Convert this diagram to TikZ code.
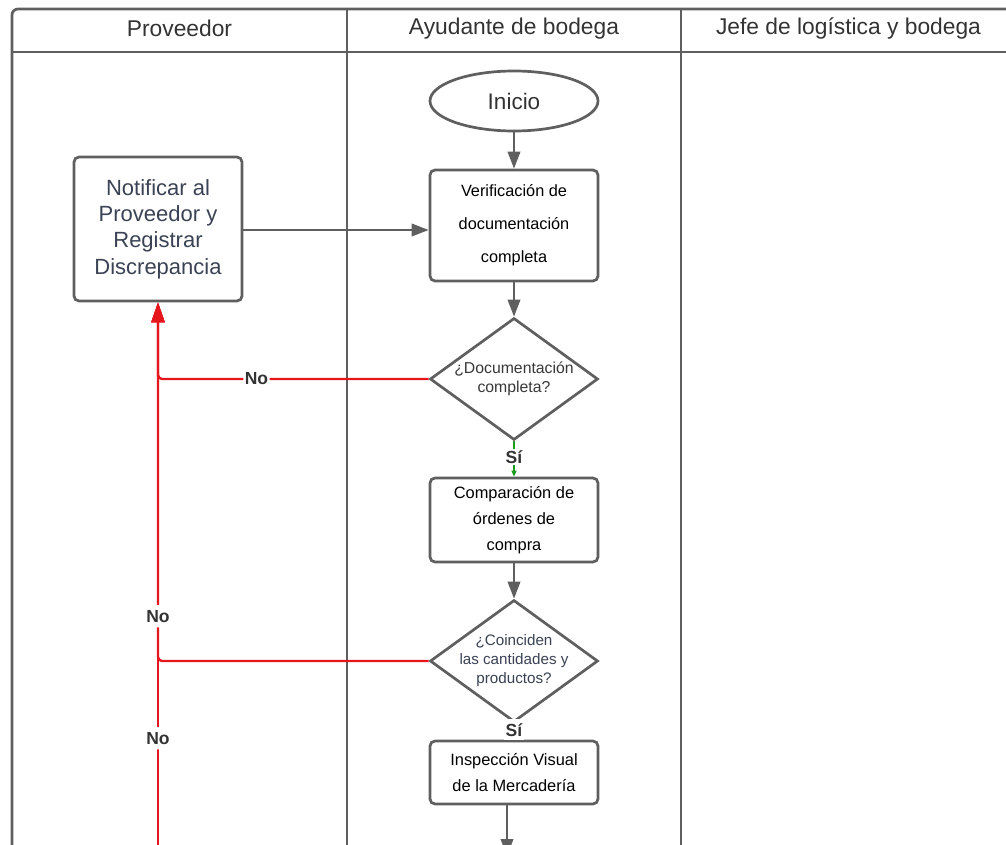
\documentclass[tikz,border=0pt]{standalone}
\usepackage{fontspec}
\setmainfont{Liberation Sans}
\usetikzlibrary{shapes.geometric,arrows.meta}

\definecolor{lanegray}{HTML}{5F5F5F}
\definecolor{headtext}{HTML}{333333}
\definecolor{slatetext}{HTML}{3A4254}
\definecolor{noline}{HTML}{E5161C}
\definecolor{yesline}{HTML}{1E9A1E}

\tikzset{
  lane/.style={draw=lanegray, line width=2.7pt, rounded corners=6pt},
  head/.style={font=\fontsize{22.8}{26}\selectfont, text=headtext},
  proc/.style={draw=lanegray, line width=2.7pt, rounded corners=5pt, fill=white,
    minimum width=168pt, align=center, inner sep=0pt, text=black,
    font=\fontsize{16.4}{26}\selectfont},
  term/.style={ellipse, draw=lanegray, line width=2.7pt, fill=white,
    minimum width=168pt, minimum height=60pt, inner sep=0pt,
    font=\fontsize{22.5}{26}\selectfont, text=headtext},
  dec/.style={diamond, draw=lanegray, line width=2.7pt, fill=white,
    minimum width=168pt, minimum height=122pt, inner xsep=-45pt, inner ysep=-25pt,
    align=center, font=\fontsize{15.8}{19.5}\selectfont},
  flow/.style={draw=lanegray, line width=2.2pt,
    -{Triangle[length=17pt,width=12.5pt]}},
  nope/.style={draw=noline, line width=2.4pt, rounded corners=4pt,
    -{Triangle[length=20pt,width=13pt]}},
  yes/.style={draw=yesline, line width=1.6pt,
    -{Triangle[length=6pt,width=5pt]}},
  nolbl/.style={fill=white, inner xsep=1.5pt, inner ysep=3pt, text=headtext,
    font=\fontsize{17.5}{19}\bfseries},
  yeslbl/.style={fill=white, inner sep=1.5pt, text=headtext,
    font=\fontsize{17.5}{19}\bfseries},
}

\begin{document}
\begin{tikzpicture}[x=1pt,y=-1pt]
\useasboundingbox (0,0) rectangle (1006,845);
\clip (0,0) rectangle (1006,845);

% swimlane frame and header row
\draw[lane] (12,870) -- (12,9) -- (1030,9);
\draw[lane, rounded corners=0pt] (12,52) -- (1030,52);
\draw[lane, rounded corners=0pt] (347,9) -- (347,870);
\draw[lane, rounded corners=0pt] (681,9) -- (681,870);

\node[head] (hprov) at (179.5,28.5) {Proveedor};
\node[head] (hayud) at (514,28.5) {Ayudante de bodega};
\node[head] (hjefe) at (848.5,28.5) {Jefe de logística y bodega};

% process steps
\node[term] (inicio) at (514,101) {Inicio};
\node[proc, minimum height=111pt, font=\fontsize{16.3}{33}\selectfont] (verif) at (514,225.5)
  {Verificación de\\documentación\\completa};
\node[dec, text=black!78] (d1) at (514,379) {¿Documentación\\completa?};
\node[proc, minimum height=84pt] (comp) at (514,520)
  {Comparación de\\órdenes de\\compra};
\node[dec, text=slatetext, font=\fontsize{15.2}{19}\selectfont] (d2) at (514,661)
  {¿Coinciden\\las cantidades y\\productos?};
\node[proc, minimum height=63pt] (insp) at (514,772.5)
  {Inspección Visual\\de la Mercadería};
\node[proc, minimum height=144pt, text=slatetext, font=\fontsize{22}{26.3}\selectfont] (notif) at (158,229)
  {Notificar al\\Proveedor y\\Registrar\\Discrepancia};

\coordinate (loopin) at (158,870);
\coordinate (nextstep) at (507,856);

% main flow
\draw[flow] (inicio) -- (verif);
\draw[flow] (verif) -- (d1);
\draw[flow] (comp) -- (d2);
\draw[flow] (insp.south -| nextstep) -- (nextstep);
\draw[flow] (notif.east |- 0,230) -- (verif.west |- 0,230);
\draw[yes] (d1) -- node[yeslbl, pos=0.45] (y1) {Sí} (comp);
\draw[yes] (d2) -- node[yeslbl, pos=0.4, inner ysep=4pt] (y2) {Sí} (insp);

% rejection paths back to the supplier (lowest first, so upper labels stay on top)
\draw[nope] (loopin) -- node[nolbl, pos=0.232, inner ysep=5pt] (n3) {No} (notif.south);
\draw[nope] (d2.west) -- (notif.south |- d2.west) -- node[nolbl, pos=0.125, inner ysep=5pt] (n2) {No} (notif.south);
\draw[nope] (d1.west) -- node[nolbl, pos=0.636] (n1) {No} (notif.south |- d1.west) -- (notif.south);
\end{tikzpicture}
\end{document}
